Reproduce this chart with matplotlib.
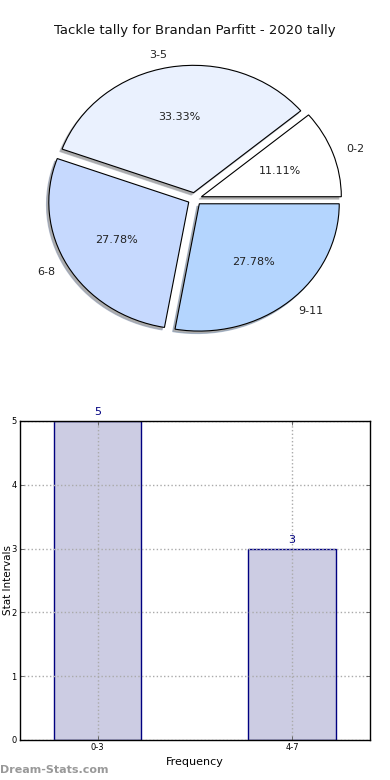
import matplotlib
matplotlib.use("Agg")
import matplotlib.pyplot as plt

pie_labels = ["0-2", "3-5", "6-8", "9-11"]
pie_values = [2, 6, 5, 5]
pie_colors = ["#ffffff", "#eaf1fe", "#c6d9fe", "#b4d5fe"]

bar_labels = ["0-3", "4-7"]
bar_values = [5, 3]

title = "Tackle tally for Brandan Parfitt - 2020 tally"

fig = plt.figure(figsize=(3.9, 7.8), dpi=100)

ax1 = fig.add_axes([0.051, 0.541, 0.897, 0.408])
wedges, texts, autotexts = ax1.pie(
    pie_values, labels=pie_labels, colors=pie_colors, autopct="%.2f%%",
    explode=[0.05] * len(pie_values),
    shadow=dict(ox=-0.012, oy=-0.014, shade=0.3, alpha=0.6, facecolor="#777777"),
    startangle=0,
    wedgeprops=dict(edgecolor="black", linewidth=0.8),
    textprops=dict(fontsize=8, color="#222222"))
ax1.set_aspect("auto")
ax1.set_xlim(-1.25, 1.25)
ax1.set_ylim(-1.25, 1.25)
fig.text(0.5, 0.961, title, ha="center", va="center", fontsize=9.5, color="#111111")

ax2 = fig.add_axes([0.051, 0.0513, 0.897, 0.409])
x = list(range(len(bar_values)))
ax2.bar(x, bar_values, width=0.45, color="#ccccE3", edgecolor="navy", linewidth=1.0, zorder=1)
for xi, v in zip(x, bar_values):
    ax2.text(xi, v + 0.06, str(v), ha="center", va="bottom", fontsize=8, color="navy")
ax2.set_xlim(-0.4, 1.4)
ax2.set_ylim(0, 5)
ax2.set_xticks(x)
ax2.set_xticklabels(bar_labels)
ax2.set_yticks(range(0, 6))
ax2.tick_params(direction="in", top=True, right=True, labelsize=6, length=3, width=0.6,
                color="#555555", pad=2.5)
ax2.set_axisbelow(False)
ax2.grid(True, linestyle=":", color="#aaaaaa", linewidth=1.0, zorder=3)
for s in ax2.spines.values():
    s.set_linewidth(1.0)
    s.set_zorder(4)
ax2.set_xlabel("Frequency", fontsize=8, labelpad=3)
ax2.set_ylabel("Stat Intervals", fontsize=7.5)
ax2.yaxis.set_label_coords(-0.021, 0.5)

fig.text(0.0, 0.013, "Dream-Stats.com", ha="left", va="center", fontsize=8,
         color="#999999", fontweight="bold")

fig.savefig("out.png", dpi=100)
